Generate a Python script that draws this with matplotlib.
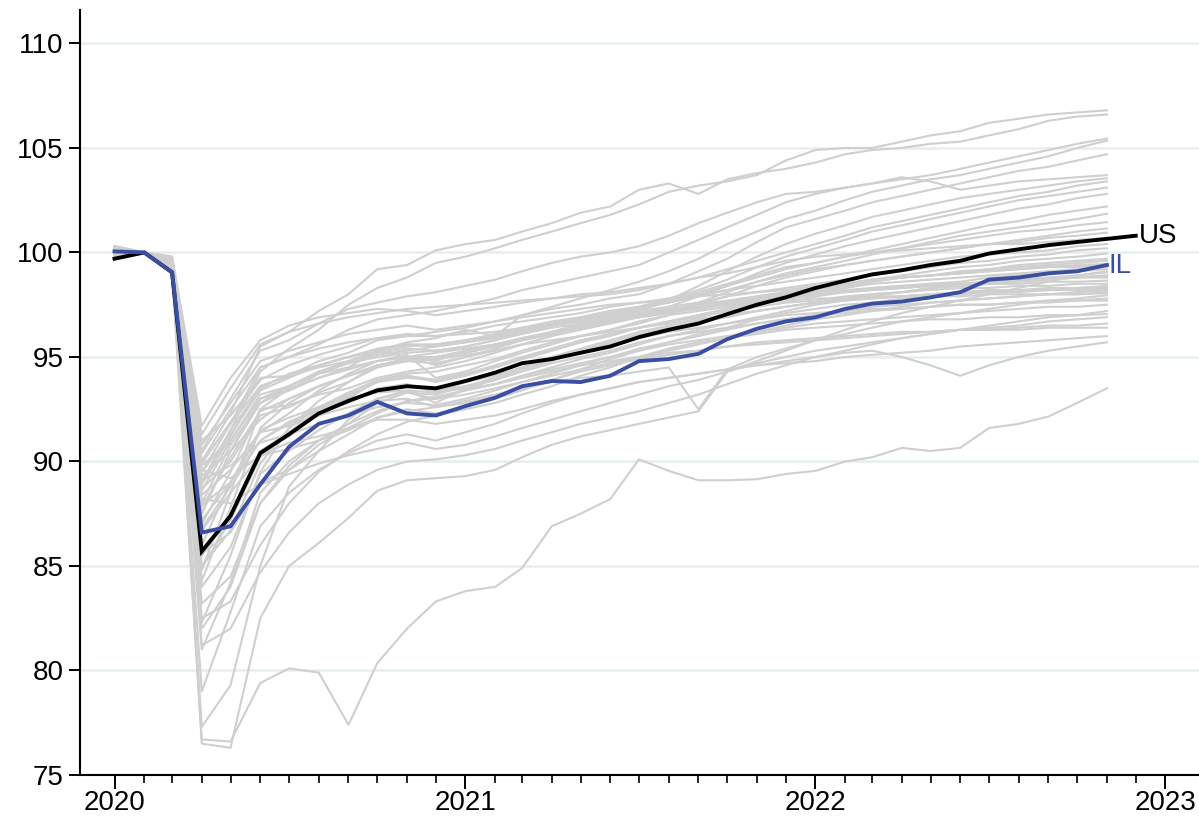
#!/usr/bin/env python3
# Payroll employment by state since the start of 2020 (index, Feb 2020 = 100).
# Every state in light gray, with the US total and Illinois drawn on top.

import matplotlib
matplotlib.use("Agg")
import matplotlib.pyplot as plt
import matplotlib.dates as mdates
import matplotlib.ticker as mticker
import pandas as pd

plt.rcParams["font.family"] = ["Liberation Sans", "DejaVu Sans"]

# monthly, Jan 2020 - Dec 2022 (state series stop at Nov 2022)
months = pd.date_range("2020-01-01", periods=36, freq="MS")

us = [99.7, 100.0, 99.05, 85.7, 87.4, 90.4, 91.3, 92.3, 92.9, 93.4, 93.6, 93.5,
      93.85, 94.25, 94.7, 94.9, 95.2, 95.5, 95.95, 96.3, 96.6, 97.05, 97.5, 97.85,
      98.3, 98.65, 98.95, 99.15, 99.4, 99.6, 99.95, 100.15, 100.35, 100.5, 100.65, 100.8]

il = [100.05, 100.0, 99.05, 86.6, 86.9, 88.9, 90.7, 91.8, 92.2, 92.85, 92.3, 92.2,
      92.65, 93.05, 93.6, 93.85, 93.8, 94.1, 94.8, 94.9, 95.15, 95.85, 96.35, 96.7,
      96.9, 97.3, 97.55, 97.65, 97.85, 98.1, 98.7, 98.8, 99.0, 99.1, 99.4]

# states that ended 2022 above the national level
fast_states = [
    [100.2, 100, 99.5, 89.0, 91.5, 94.3, 95.4, 96.3, 97.5, 98.3, 98.8, 99.5, 99.8, 100.2, 100.6, 101.0, 101.4, 101.8, 102.3, 102.9, 103.2, 103.4, 103.7, 104.4, 104.9, 105.0, 105.0, 105.3, 105.6, 105.8, 106.2, 106.4, 106.6, 106.7, 106.8],
    [100.1, 100, 99.7, 90.0, 92.3, 95.5, 96.2, 97.2, 98.0, 99.2, 99.4, 100.1, 100.4, 100.6, 101.0, 101.4, 101.9, 102.2, 103.0, 103.3, 102.8, 103.5, 103.8, 104.0, 104.3, 104.7, 104.9, 105.0, 105.2, 105.3, 105.6, 105.9, 106.3, 106.5, 106.6],
    [99.9, 100, 99.3, 89.5, 91.8, 94.5, 95.0, 95.6, 96.3, 96.8, 97.0, 97.2, 97.5, 97.8, 98.2, 98.5, 98.8, 99.1, 99.4, 100.0, 100.6, 101.2, 101.8, 102.4, 102.8, 103.1, 103.3, 103.5, 103.7, 104.0, 104.3, 104.6, 104.9, 105.2, 105.45],
    [99.8, 100, 99.4, 89.8, 91.0, 93.0, 93.4, 94.2, 94.5, 95.3, 95.7, 95.9, 96.3, 96.0, 97.0, 97.4, 97.8, 98.2, 98.6, 99.1, 99.7, 100.4, 101.0, 101.6, 102.0, 102.5, 102.9, 103.2, 103.5, 103.7, 104.0, 104.3, 104.6, 105.0, 105.35],
    [99.9, 100, 99.6, 91.0, 92.2, 94.0, 94.1, 94.8, 95.2, 95.8, 96.0, 96.2, 96.4, 96.7, 97.0, 97.3, 97.5, 97.8, 98.0, 98.5, 99.1, 99.7, 100.5, 101.2, 101.6, 102.0, 102.4, 102.7, 103.0, 103.3, 103.6, 103.9, 104.1, 104.4, 104.7],
    [100.3, 100, 99.4, 90.5, 93.0, 95.3, 95.8, 96.6, 97.3, 97.6, 97.9, 98.1, 98.4, 98.7, 99.1, 99.5, 99.8, 100.0, 100.3, 100.8, 101.4, 101.9, 102.4, 102.8, 102.9, 103.1, 103.3, 103.6, 103.4, 103.0, 103.2, 103.4, 103.5, 103.6, 103.7],
    [100.0, 100, 99.2, 87.0, 89.5, 92.5, 92.7, 93.2, 93.5, 94.0, 94.3, 94.5, 94.8, 95.2, 95.6, 96.0, 96.5, 96.9, 97.2, 97.7, 98.4, 99.1, 99.8, 100.4, 100.9, 101.3, 101.7, 102.0, 102.3, 102.6, 102.8, 103.0, 103.2, 103.4, 103.55],
    [100.2, 100, 99.8, 91.3, 93.5, 95.6, 96.2, 96.6, 96.9, 97.1, 97.3, 97.4, 97.5, 97.6, 97.7, 97.8, 97.9, 98.0, 98.2, 98.5, 98.8, 99.2, 99.6, 100.0, 100.4, 100.8, 101.2, 101.5, 101.8, 102.1, 102.4, 102.7, 102.9, 103.2, 103.4],
    [99.9, 100, 99.4, 88.6, 91.0, 93.2, 93.6, 94.2, 94.7, 95.1, 95.3, 95.5, 95.7, 96.0, 96.3, 96.6, 96.9, 97.2, 97.4, 97.8, 98.2, 98.7, 99.3, 99.8, 100.2, 100.6, 101.0, 101.3, 101.6, 101.9, 102.2, 102.5, 102.7, 102.9, 103.1],
    [100.0, 100, 99.5, 87.8, 90.2, 92.4, 93.0, 93.6, 94.1, 94.5, 94.8, 95.0, 95.3, 95.6, 95.9, 96.2, 96.5, 96.8, 97.0, 97.4, 97.9, 98.4, 99.0, 99.5, 99.9, 100.3, 100.6, 100.9, 101.2, 101.5, 101.8, 102.1, 102.3, 102.6, 102.8],
    [100.1, 100, 99.3, 87.5, 90.5, 93.0, 93.6, 94.3, 94.7, 95.0, 95.2, 95.3, 95.5, 95.8, 96.2, 96.5, 96.8, 97.1, 97.3, 97.6, 98.0, 98.4, 98.8, 99.2, 99.5, 99.8, 100.1, 100.4, 100.7, 101.0, 101.3, 101.5, 101.8, 102.0, 102.2],
    [99.8, 100, 99.4, 88.0, 90.8, 92.8, 93.4, 94.0, 94.5, 94.8, 95.0, 95.2, 95.4, 95.6, 95.9, 96.2, 96.4, 96.7, 96.9, 97.2, 97.6, 98.1, 98.6, 99.0, 99.3, 99.6, 99.9, 100.2, 100.5, 100.8, 101.0, 101.2, 101.4, 101.6, 101.85],
    [100.2, 100, 99.6, 88.7, 90.0, 92.2, 92.6, 93.3, 93.8, 94.6, 94.8, 94.7, 95.0, 95.4, 95.8, 96.2, 96.6, 97.0, 97.3, 97.7, 98.1, 98.5, 98.9, 99.3, 99.5, 99.8, 100.0, 100.2, 100.4, 100.6, 100.8, 101.0, 101.1, 101.3, 101.45],
    [100.1, 100, 99.3, 85.5, 87.5, 90.5, 91.2, 92.5, 93.0, 93.9, 94.2, 94.3, 94.6, 94.9, 95.3, 95.7, 96.0, 96.3, 96.6, 97.0, 97.5, 97.9, 98.4, 98.8, 99.1, 99.4, 99.6, 99.8, 100.0, 100.2, 100.4, 100.6, 100.8, 101.0, 101.15],
    [99.8, 100, 99.5, 89.5, 91.3, 93.4, 94.0, 94.6, 95.0, 95.3, 95.5, 95.6, 95.8, 96.1, 96.4, 96.7, 96.9, 97.2, 97.4, 97.6, 97.9, 98.2, 98.6, 98.9, 99.2, 99.4, 99.6, 99.8, 100.0, 100.2, 100.4, 100.5, 100.7, 100.8, 100.95],
    [100.3, 100, 99.8, 91.7, 94.0, 95.8, 96.5, 96.9, 97.1, 97.3, 97.2, 97.0, 97.2, 97.4, 97.6, 97.8, 98.0, 98.1, 98.3, 98.5, 98.8, 99.0, 99.3, 99.6, 99.8, 99.9, 100.0, 100.1, 100.2, 100.3, 100.4, 100.4, 100.5, 100.6, 100.7],
    [99.9, 100, 99.5, 90.4, 92.5, 94.5, 95.0, 95.4, 95.7, 95.9, 96.0, 96.0, 96.2, 96.5, 96.7, 96.9, 97.1, 97.4, 97.6, 97.8, 98.0, 98.2, 98.4, 98.6, 98.8, 99.0, 99.2, 99.4, 99.6, 99.8, 99.9, 100.0, 100.1, 100.3, 100.4],
]

# states close to the national path
middle_states = [
    [100.0, 100, 99.4, 89.0, 91.5, 93.5, 94.2, 94.6, 95.0, 95.3, 95.6, 95.5, 95.7, 95.9, 96.2, 96.5, 96.8, 97.0, 97.2, 97.4, 97.6, 97.9, 98.1, 98.3, 98.5, 98.7, 98.9, 99.1, 99.3, 99.5, 99.6, 99.8, 99.9, 100.1, 100.2],
    [100.1, 100, 99.2, 84.3, 87.8, 91.6, 92.8, 93.6, 94.1, 94.6, 94.9, 95.0, 95.2, 95.5, 95.8, 96.1, 96.4, 96.7, 96.9, 97.1, 97.4, 97.6, 97.9, 98.1, 98.3, 98.5, 98.7, 98.9, 99.1, 99.3, 99.4, 99.6, 99.7, 99.8, 99.95],
    [100.2, 100, 99.6, 90.0, 91.8, 93.6, 94.1, 94.5, 94.8, 95.2, 95.4, 95.3, 95.5, 95.8, 96.1, 96.4, 96.6, 96.8, 97.0, 97.2, 97.4, 97.6, 97.8, 98.0, 98.2, 98.4, 98.6, 98.8, 98.9, 99.1, 99.2, 99.4, 99.5, 99.6, 99.7],
    [100.1, 100, 99.4, 85.0, 86.7, 89.9, 91.6, 92.6, 93.3, 93.9, 94.1, 93.8, 94.1, 94.5, 94.9, 95.3, 95.7, 96.1, 96.4, 96.7, 97.0, 97.3, 97.6, 97.9, 98.2, 98.4, 98.6, 98.8, 98.9, 99.0, 99.2, 99.3, 99.4, 99.5, 99.6],
    [99.9, 100, 99.6, 90.8, 92.8, 94.8, 95.3, 95.7, 96.1, 96.3, 96.5, 96.3, 96.5, 96.7, 96.9, 97.1, 97.3, 97.5, 97.6, 97.7, 97.9, 98.0, 98.1, 98.2, 98.4, 98.5, 98.7, 98.8, 98.9, 99.0, 99.1, 99.2, 99.3, 99.4, 99.45],
    [100.3, 100, 99.6, 82.3, 85.5, 89.5, 91.6, 92.9, 93.8, 94.5, 95.0, 95.0, 95.2, 95.5, 95.8, 96.1, 96.4, 96.7, 97.0, 97.3, 97.5, 97.7, 97.9, 98.1, 98.3, 98.5, 98.7, 98.8, 98.9, 99.0, 99.1, 99.2, 99.3, 99.3, 99.4],
    [100.0, 100, 99.4, 86.8, 88.8, 91.0, 91.8, 92.6, 93.1, 93.8, 94.1, 93.9, 94.2, 94.6, 95.0, 95.4, 95.8, 96.1, 96.4, 96.7, 97.0, 97.3, 97.6, 97.9, 98.1, 98.3, 98.5, 98.6, 98.7, 98.8, 98.9, 99.0, 99.1, 99.2, 99.3],
    [99.9, 100, 99.3, 88.9, 91.2, 93.6, 94.1, 94.6, 95.0, 95.4, 95.6, 95.6, 95.8, 96.0, 96.3, 96.5, 96.7, 96.9, 97.1, 97.2, 97.4, 97.5, 97.7, 97.8, 98.0, 98.1, 98.3, 98.4, 98.5, 98.6, 98.8, 98.9, 99.0, 99.1, 99.2],
    [100.1, 100, 99.6, 76.5, 76.3, 82.5, 85.0, 86.1, 87.3, 88.6, 89.1, 89.2, 89.3, 89.6, 90.2, 90.8, 91.2, 91.5, 91.8, 92.1, 92.4, 94.3, 94.8, 95.3, 95.8, 96.3, 96.7, 97.1, 97.4, 97.7, 98.0, 98.3, 98.6, 98.9, 99.1],
    [100.1, 100, 99.5, 89.3, 90.5, 92.0, 93.0, 93.6, 94.1, 94.6, 94.8, 94.9, 95.1, 95.3, 95.6, 95.8, 96.0, 96.2, 96.4, 96.6, 96.8, 97.0, 97.2, 97.4, 97.6, 97.8, 98.0, 98.1, 98.3, 98.4, 98.5, 98.7, 98.8, 98.9, 99.05],
    [100.2, 100, 99.3, 87.2, 89.0, 91.4, 92.3, 93.4, 94.2, 94.8, 95.1, 94.0, 94.3, 94.8, 95.2, 95.6, 96.0, 96.3, 96.7, 97.0, 97.2, 97.4, 97.6, 97.8, 97.9, 98.1, 98.2, 98.3, 98.4, 98.5, 98.6, 98.7, 98.8, 98.8, 98.9],
    [100.0, 100, 99.2, 83.2, 84.5, 88.0, 89.6, 90.8, 91.6, 92.3, 92.9, 93.1, 93.4, 93.7, 94.1, 94.5, 94.9, 95.2, 95.6, 96.0, 96.3, 96.6, 96.9, 97.2, 97.5, 97.7, 97.9, 98.1, 98.3, 98.4, 98.5, 98.6, 98.7, 98.8, 98.9],
    [100.1, 100, 99.5, 87.5, 90.5, 92.8, 93.6, 94.3, 94.8, 95.3, 95.0, 94.8, 95.3, 95.6, 95.8, 96.1, 96.4, 96.7, 97.0, 97.2, 97.4, 97.6, 97.8, 98.0, 98.1, 98.2, 98.3, 98.4, 98.5, 98.5, 98.6, 98.7, 98.7, 98.8, 98.8],
    [99.8, 100, 99.2, 84.8, 88.5, 92.5, 93.5, 94.0, 94.4, 94.8, 95.0, 94.6, 95.0, 95.3, 95.6, 96.0, 96.3, 96.6, 96.9, 97.1, 97.3, 97.5, 97.7, 97.9, 98.0, 98.1, 98.2, 98.3, 98.4, 98.4, 98.5, 98.5, 98.6, 98.6, 98.65],
    [100.0, 100, 99.3, 84.9, 87.2, 90.5, 91.4, 92.5, 93.2, 93.8, 94.0, 93.9, 94.2, 94.5, 94.9, 95.3, 95.7, 96.0, 96.4, 96.7, 96.9, 97.2, 97.4, 97.6, 97.7, 97.9, 98.0, 98.1, 98.2, 98.3, 98.3, 98.4, 98.4, 98.5, 98.5],
    [100.1, 100, 99.4, 84.0, 85.9, 89.4, 90.5, 91.5, 92.3, 93.0, 93.4, 92.8, 93.5, 93.9, 94.4, 94.8, 95.3, 95.7, 96.1, 96.4, 96.7, 96.9, 97.2, 97.4, 97.6, 97.7, 97.8, 97.9, 98.0, 98.1, 98.2, 98.2, 98.3, 98.3, 98.4],
    [99.9, 100, 99.3, 82.0, 84.0, 88.0, 89.8, 91.0, 91.8, 92.8, 93.3, 93.2, 93.6, 94.0, 94.5, 95.0, 95.4, 95.8, 96.2, 96.5, 96.8, 97.0, 97.2, 97.4, 97.6, 97.7, 97.8, 97.9, 98.0, 98.1, 98.1, 98.2, 98.2, 98.3, 98.3],
]

# states that were still below the national level
slow_states = [
    [100.0, 100, 99.6, 89.9, 91.9, 93.9, 94.6, 95.1, 95.5, 95.9, 96.1, 96.0, 96.1, 96.2, 96.4, 96.6, 96.8, 97.0, 97.1, 97.3, 97.4, 97.5, 97.6, 97.7, 97.8, 97.8, 97.9, 97.9, 98.0, 98.0, 98.1, 98.1, 98.2, 98.2, 98.2],
    [99.9, 100, 99.3, 81.0, 84.2, 88.5, 90.0, 91.0, 91.8, 92.4, 92.9, 93.0, 93.2, 93.5, 93.8, 94.1, 94.4, 94.7, 95.0, 95.3, 95.6, 95.9, 96.2, 96.5, 96.8, 97.0, 97.2, 97.4, 97.6, 97.7, 97.8, 97.9, 98.0, 98.1, 98.2],
    [100.1, 100, 99.5, 89.1, 89.8, 90.9, 91.3, 91.8, 92.2, 92.6, 92.8, 92.7, 93.0, 93.4, 93.8, 94.2, 94.6, 95.0, 95.4, 95.7, 96.0, 96.3, 96.6, 96.8, 97.0, 97.2, 97.4, 97.5, 97.6, 97.7, 97.8, 97.9, 98.0, 98.0, 98.1],
    [100.1, 100, 99.4, 85.6, 86.6, 89.0, 89.6, 90.5, 91.3, 92.1, 92.5, 92.3, 92.6, 93.0, 93.4, 93.9, 94.4, 94.9, 95.3, 95.7, 96.1, 96.4, 96.8, 97.1, 97.3, 97.5, 97.6, 97.8, 97.9, 97.9, 98.0, 98.0, 98.0, 98.0, 98.05],
    [99.9, 100, 99.4, 86.7, 88.5, 90.3, 90.6, 91.0, 91.5, 92.1, 92.4, 92.6, 92.9, 93.2, 93.5, 93.8, 94.0, 94.1, 94.3, 94.5, 92.5, 94.4, 95.0, 95.4, 95.8, 96.1, 96.4, 96.7, 96.9, 97.1, 97.3, 97.5, 97.7, 97.8, 97.95],
    [100.0, 100, 99.3, 87.9, 89.0, 91.0, 91.9, 92.5, 92.9, 93.4, 93.6, 93.4, 93.6, 93.9, 94.3, 94.7, 95.0, 95.3, 95.7, 96.0, 96.2, 96.4, 96.6, 96.8, 97.0, 97.1, 97.2, 97.3, 97.4, 97.5, 97.5, 97.6, 97.7, 97.7, 97.8],
    [100.1, 100, 99.5, 85.7, 87.2, 90.2, 91.3, 92.3, 92.8, 93.5, 93.7, 93.3, 93.8, 94.1, 94.5, 94.9, 95.3, 95.6, 95.9, 96.2, 96.4, 96.6, 96.8, 97.0, 97.1, 97.2, 97.3, 97.3, 97.4, 97.5, 97.5, 97.6, 97.6, 97.7, 97.7],
    [100.0, 100, 99.3, 77.3, 79.3, 85.0, 88.8, 90.5, 92.0, 93.0, 93.3, 93.0, 93.4, 93.7, 94.1, 94.4, 94.7, 95.0, 95.3, 95.6, 95.8, 96.0, 96.2, 96.4, 96.6, 96.7, 96.8, 96.9, 97.0, 97.1, 97.2, 97.3, 97.4, 97.4, 97.5],
    [100.2, 100, 99.4, 81.2, 82.0, 84.7, 86.6, 88.0, 88.9, 89.6, 90.0, 90.1, 90.3, 90.6, 91.0, 91.4, 91.8, 92.1, 92.4, 92.8, 93.2, 93.7, 94.2, 94.6, 95.0, 95.3, 95.6, 95.9, 96.1, 96.3, 96.5, 96.7, 96.9, 97.0, 97.2],
    [100.0, 100, 99.2, 82.5, 83.3, 86.0, 88.0, 89.5, 90.5, 91.3, 91.9, 92.2, 92.5, 92.8, 93.2, 93.6, 94.1, 94.5, 95.0, 95.4, 95.7, 95.9, 96.1, 96.3, 96.4, 96.5, 96.6, 96.7, 96.8, 96.8, 96.9, 96.9, 97.0, 97.0, 97.05],
    [100.0, 100, 99.5, 88.2, 88.0, 88.9, 89.4, 89.9, 90.3, 90.6, 90.9, 90.6, 90.8, 91.2, 91.6, 92.0, 92.4, 92.8, 93.2, 93.6, 93.9, 94.3, 94.7, 95.0, 95.3, 95.5, 95.7, 95.9, 96.1, 96.3, 96.4, 96.5, 96.7, 96.8, 96.9],
    [99.8, 100, 99.5, 86.0, 89.0, 91.5, 92.1, 92.6, 93.0, 93.3, 93.4, 93.3, 93.5, 93.7, 94.0, 94.3, 94.6, 94.8, 95.0, 95.2, 95.3, 95.5, 95.6, 95.7, 95.8, 95.9, 96.0, 96.1, 96.2, 96.3, 96.3, 96.4, 96.5, 96.5, 96.6],
    [99.9, 100, 99.7, 88.4, 89.6, 91.4, 91.7, 92.2, 92.6, 92.9, 93.0, 92.6, 92.8, 93.1, 93.5, 93.9, 94.3, 94.6, 94.9, 95.1, 95.3, 95.5, 95.7, 95.8, 95.9, 96.0, 96.1, 96.2, 96.2, 96.3, 96.3, 96.3, 96.4, 96.4, 96.4],
    [100.2, 100, 99.2, 79.0, 82.8, 86.9, 88.5, 89.6, 90.4, 91.0, 91.3, 91.0, 91.4, 91.8, 92.3, 92.8, 93.2, 93.5, 93.8, 94.0, 94.2, 94.4, 94.6, 94.7, 94.8, 95.0, 95.1, 95.2, 95.3, 95.5, 95.6, 95.7, 95.8, 95.9, 96.0],
    [100.0, 100, 99.6, 89.6, 89.2, 90.3, 90.9, 91.2, 91.6, 92.0, 92.0, 91.8, 92.0, 92.2, 92.5, 92.9, 93.2, 93.5, 93.8, 94.0, 94.2, 94.4, 94.6, 94.8, 95.0, 95.2, 95.3, 95.0, 94.6, 94.1, 94.6, 95.0, 95.3, 95.5, 95.7],
    [100.2, 100, 99.0, 76.7, 76.6, 79.4, 80.1, 79.9, 77.4, 80.35, 82.0, 83.3, 83.8, 84.0, 84.9, 86.9, 87.5, 88.2, 90.1, 89.55, 89.1, 89.1, 89.15, 89.4, 89.55, 90.0, 90.2, 90.65, 90.5, 90.65, 91.6, 91.8, 92.15, 92.8, 93.5],
]

fig = plt.figure(figsize=(11.99, 8.22), dpi=100)
ax = fig.add_axes([80 / 1199, 47 / 822, 1 - 80 / 1199, 765 / 822])

for vals in fast_states + middle_states + slow_states:
    ax.plot(months[:len(vals)], vals, color="#cfcfcf", lw=1.5, zorder=1)

ax.plot(months, us, color="black", lw=2.8, zorder=3, solid_joinstyle="miter")
ax.plot(months[:len(il)], il, color="#3a4ea2", lw=2.8, zorder=4, solid_joinstyle="miter")

ax.annotate("US", xy=(months[len(us) - 1], us[-1]), xytext=(2, 0),
            textcoords="offset points", ha="left", va="center",
            fontsize=20, color="black")
ax.annotate("IL", xy=(months[len(il) - 1], il[-1]), xytext=(1, -1),
            textcoords="offset points", ha="left", va="center",
            fontsize=20, color="#3a4ea2")

ax.set_ylim(75, 111.6)
ax.set_yticks(range(75, 111, 5))
ax.set_xlim(pd.Timestamp("2019-11-26"), pd.Timestamp("2023-02-05"))

# year labels, plus a small tick for every month from Jan 2020 to Jan 2023
ax.xaxis.set_major_locator(mdates.YearLocator())
ax.xaxis.set_major_formatter(mdates.DateFormatter("%Y"))
month_ticks = pd.date_range("2020-01-01", "2023-01-01", freq="MS")
ax.xaxis.set_minor_locator(mticker.FixedLocator(mdates.date2num(month_ticks)))

ax.yaxis.grid(True, color="#e6eff0", lw=1.8)
ax.set_axisbelow(True)

for side in ("top", "right"):
    ax.spines[side].set_visible(False)
for side in ("left", "bottom"):
    ax.spines[side].set_linewidth(1.5)

ax.tick_params(axis="x", which="major", length=10, width=1.4, labelsize=20, pad=1)
ax.tick_params(axis="x", which="minor", length=6, width=1.2)
ax.tick_params(axis="y", which="major", length=8, width=1.4, labelsize=20, pad=4)

fig.savefig("out.png", dpi=100)
